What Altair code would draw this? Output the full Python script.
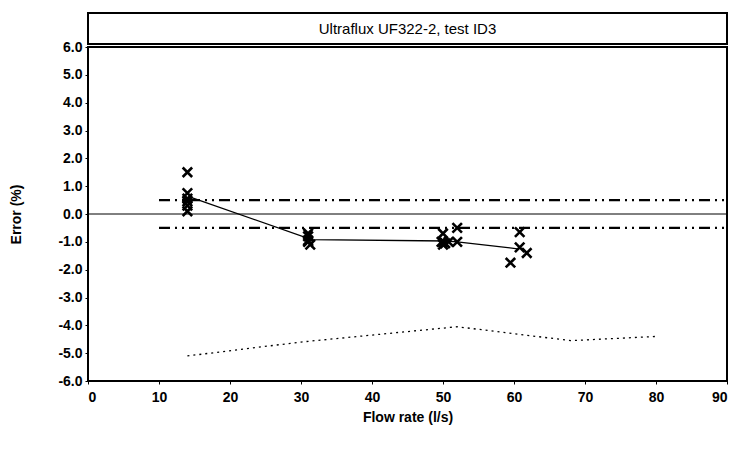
import altair as alt
import pandas as pd

# measured points
pt_x = [14, 14, 14, 14, 14, 14,
        31, 31, 31, 31.3, 31,
        50, 50, 50.3, 49.8, 50, 50.8, 52, 52,
        59.5, 60.8, 60.8, 61.8]
pt_y = [1.5, 0.75, 0.55, 0.45, 0.3, 0.1,
        -0.7, -0.8, -0.95, -1.1, -1.0,
        -0.7, -1.0, -1.05, -1.0, -1.1, -1.0, -0.5, -1.0,
        -1.75, -0.65, -1.2, -1.4]

# mean line
mean_x = [14.5, 31.5, 50.5, 52, 60.5]
mean_y = [0.6, -0.92, -0.97, -1.0, -1.25]

# dotted lower curve
dot_x = [14, 30, 52, 60, 68, 80]
dot_y = [-5.1, -4.6, -4.05, -4.3, -4.55, -4.4]

# dash-dot limits
lim_x = [10, 90]
lim_hi = [0.5, 0.5]
lim_lo = [-0.5, -0.5]

title_text = "Ultraflux UF322-2, test ID3"
x_ticks = [0, 10, 20, 30, 40, 50, 60, 70, 80, 90]
y_ticks = [-6, -5, -4, -3, -2, -1, 0, 1, 2, 3, 4, 5, 6]

W, H = 639, 334
FONT = "Liberation Sans"

xs = alt.Scale(domain=[0, 90], nice=False)
ys = alt.Scale(domain=[-6, 6], nice=False)

x_axis = alt.Axis(values=x_ticks, format="d", title="Flow rate (l/s)", grid=False,
                  labelFont=FONT, labelFontSize=14, labelFontWeight="bold", labelColor="black",
                  titleFont=FONT, titleFontSize=14, titleFontWeight="bold", titleColor="black",
                  tickColor="black", tickSize=3, labelPadding=6, titlePadding=6,
                  domain=False)
y_axis = alt.Axis(values=y_ticks, title="Error (%)", grid=False,
                  labelExpr="replace(format(datum.value, '.1f'), '\u2212', '-')",
                  labelFont=FONT, labelFontSize=14, labelFontWeight="bold", labelColor="black",
                  titleFont=FONT, titleFontSize=14, titleFontWeight="bold", titleColor="black",
                  tickColor="black", tickSize=3, labelPadding=3, titlePadding=34,
                  domain=False)

pts = pd.DataFrame({"x": pt_x, "y": pt_y})
mean = pd.DataFrame({"x": mean_x, "y": mean_y})
dot = pd.DataFrame({"x": dot_x, "y": dot_y})
hi = pd.DataFrame({"x": lim_x, "y": lim_hi})
lo = pd.DataFrame({"x": lim_x, "y": lim_lo})

zero = alt.Chart(pd.DataFrame({"y": [0]})).mark_rule(color="black", strokeWidth=1).encode(
    y=alt.Y("y:Q", scale=ys, axis=y_axis))

def dashline(df, dash, sw):
    return alt.Chart(df).mark_line(color="black", strokeDash=dash, strokeWidth=sw).encode(
        x=alt.X("x:Q", scale=xs, axis=x_axis), y=alt.Y("y:Q", scale=ys, axis=y_axis))

hi_l = dashline(hi, [11, 5, 2, 5, 2, 5], 2.2)
lo_l = dashline(lo, [11, 5, 2, 5, 2, 5], 2.2)
dot_l = dashline(dot, [2, 4], 1.3)
mean_l = alt.Chart(mean).mark_line(color="black", strokeWidth=1.3).encode(
    x=alt.X("x:Q", scale=xs, axis=x_axis), y=alt.Y("y:Q", scale=ys, axis=y_axis))

pts_l = alt.Chart(pts).mark_point(shape="M-1,-1L1,1M-1,1L1,-1", filled=False, color="black",
                                  strokeWidth=2.6, size=90, opacity=1).encode(
    x=alt.X("x:Q", scale=xs, axis=x_axis), y=alt.Y("y:Q", scale=ys, axis=y_axis))

tb = pd.DataFrame({"t": [title_text]})
title_box = alt.Chart(tb).mark_rect(fill="white", stroke="black", strokeWidth=2).encode(
    x=alt.value(0), x2=alt.value(W), y=alt.value(-34), y2=alt.value(-3))
title_txt = alt.Chart(tb).mark_text(font=FONT, fontSize=15, color="black").encode(
    x=alt.value(W / 2), y=alt.value(-18), text="t:N")

chart = alt.layer(zero, hi_l, lo_l, dot_l, mean_l, pts_l, title_box, title_txt).properties(
    width=W, height=H,
    autosize=alt.AutoSizeParams(type="none"),
    padding={"left": 88, "top": 47, "right": 7, "bottom": 68},
    background="white",
).configure_view(stroke="black", strokeWidth=2)

chart.save("out.html", embed_options={"renderer": "svg", "actions": False})
